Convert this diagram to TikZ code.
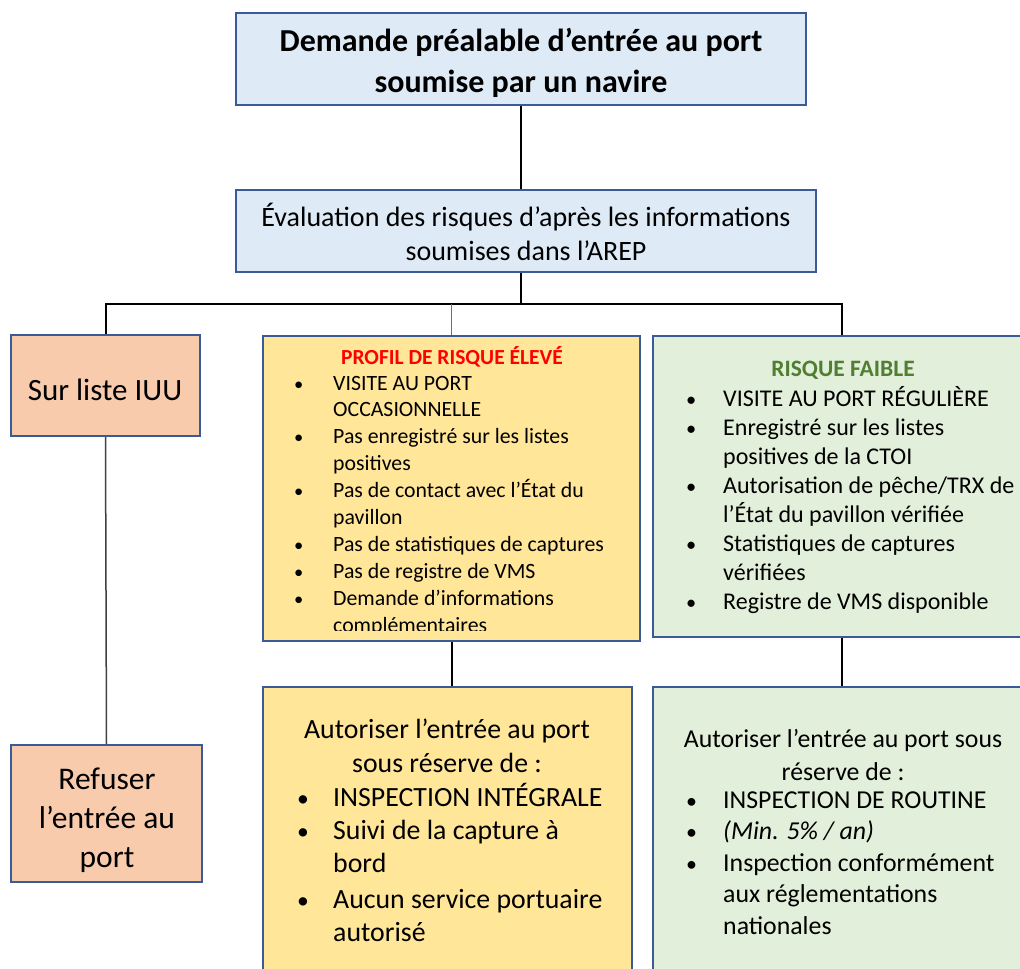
\documentclass[tikz,border=0pt]{standalone}
\usepackage{fontspec}
\setmainfont{Carlito}
\usepackage{array}
\definecolor{bluefill}{HTML}{DEEBF7}
\definecolor{boxline}{HTML}{3A5A98}
\definecolor{yellowfill}{HTML}{FFE699}
\definecolor{greenfill}{HTML}{E2EFDA}
\definecolor{orangefill}{HTML}{F8CBAD}
\definecolor{redtitle}{HTML}{FF0000}
\definecolor{greentitle}{HTML}{507E32}
\definecolor{midgray}{HTML}{707070}
\definecolor{darkgray}{HTML}{404040}
\tikzset{
  box/.style={draw=boxline, line width=2pt, inner sep=0pt, rectangle},
  bluebox/.style={box, fill=bluefill},
  yellowbox/.style={box, fill=yellowfill},
  greenbox/.style={box, fill=greenfill},
  orangebox/.style={box, fill=orangefill},
  txt/.style={inner sep=0pt, align=center, text=black},
  listtxt/.style={inner sep=0pt, anchor=north west, align=left, text=black},
  conn/.style={line width=2pt, black},
  thinconn/.style={line width=1.6pt, midgray},
  darkconn/.style={line width=1.5pt, darkgray},
}
\newcommand\bulletrow[1]{\makebox[0pt][l]{\scalebox{0.85}{•}}&#1}
\begin{document}
\begin{tikzpicture}[x=1pt,y=-1pt]
\clip (0,0) rectangle (1020,969);
\useasboundingbox (0,0) rectangle (1020,969);

% boxes
\node[bluebox, minimum width=570pt, minimum height=92pt] (top) at (521,59) {};
\node[bluebox, minimum width=580pt, minimum height=82pt] (eval) at (526,231) {};
\node[orangebox, minimum width=189pt, minimum height=101pt] (iuu) at (105.5,385.5) {};
\node[orangebox, minimum width=191pt, minimum height=137pt] (refus) at (106.5,813.5) {};
\node[yellowbox, minimum width=377pt, minimum height=305pt] (high) at (451.5,488.5) {};
\node[greenbox, minimum width=377pt, minimum height=301pt] (low) at (841.5,486.5) {};
\node[yellowbox, minimum width=369pt, minimum height=303pt] (highact) at (447.5,838.5) {};
\node[greenbox, minimum width=377pt, minimum height=303pt] (lowact) at (841.5,838.5) {};

% bus coordinates
\coordinate (busL) at (105,304);
\coordinate (busM) at (521,304);

% connectors
\draw[conn] (top.south) -- (top.south |- eval.north);
\draw[conn] (busM |- eval.south) -- (busM);
\draw[conn] (iuu.north) |- (busL) -- (low.north |- busL) -- (low.north);
\draw[thinconn] (high.north) -- (high.north |- busL);
\draw[darkconn] (iuu.south) -- (refus.north);
\draw[conn] (high.south) -- (high.south |- highact.north);
\draw[conn] (low.south) -- (low.south |- lowact.north);

% texts
\node[txt, font=\fontsize{32}{41}\selectfont\bfseries] (toptxt) at (521,63)
  {Demande préalable d’entrée au port\\soumise par un navire};
\node[txt, font=\fontsize{28}{34}\selectfont] (evaltxt) at (526,232)
  {Évaluation des risques d’après les informations\\soumises dans l’AREP};
\node[txt, font=\fontsize{31}{39}\selectfont] (iuutxt) at (105,390) {Sur liste IUU};
\node[txt, font=\fontsize{31.5}{39}\selectfont] (refustxt) at (107,820)
  {Refuser\\l’entrée au\\port};

% high risk
\node[txt, font=\fontsize{21.5}{24}\selectfont\bfseries, text=redtitle] (hightitle) at (452,357)
  {PROFIL DE RISQUE ÉLEVÉ};
\begin{scope}
\clip (264,337) rectangle (640,630);
\node[listtxt, font=\fontsize{21.8}{26.9}\selectfont] (highlist) at (294,371) {%
\begin{tabular}{@{}p{39pt}@{}l@{}}
\bulletrow{VISITE AU PORT}\\
 & OCCASIONNELLE\\
\bulletrow{Pas enregistré sur les listes}\\
 & positives\\
\bulletrow{Pas de contact avec l’État du}\\
 & pavillon\\
\bulletrow{Pas de statistiques de captures}\\
\bulletrow{Pas de registre de VMS}\\
\bulletrow{Demande d’informations}\\
 & complémentaires
\end{tabular}};
\end{scope}

% low risk
\node[txt, font=\fontsize{23.5}{26}\selectfont\bfseries, text=greentitle] (lowtitle) at (843,370)
  {RISQUE FAIBLE};
\node[listtxt, font=\fontsize{24}{29}\selectfont] (lowlist) at (686,386) {%
\begin{tabular}{@{}p{37pt}@{}l@{}}
\bulletrow{VISITE AU PORT RÉGULIÈRE}\\
\bulletrow{Enregistré sur les listes}\\
 & positives de la CTOI\\
\bulletrow{Autorisation de pêche/TRX de}\\
 & l’État du pavillon vérifiée\\
\bulletrow{Statistiques de captures}\\
 & vérifiées\\
\bulletrow{Registre de VMS disponible}
\end{tabular}};

% high action
\node[txt, font=\fontsize{27.8}{34}\selectfont] (highhead) at (447,746)
  {Autoriser l’entrée au port\\sous réserve de :};
\node[listtxt, font=\fontsize{27.8}{33}\selectfont] (highactlist) at (297,783) {%
\begin{tabular}{@{}p{36pt}@{}l@{}}
\bulletrow{INSPECTION INTÉGRALE}\\
\bulletrow{Suivi de la capture à}\\
 & bord\\[3pt]
\bulletrow{Aucun service portuaire}\\
 & autorisé
\end{tabular}};

% low action
\node[txt, font=\fontsize{25.8}{33}\selectfont] (lowhead) at (843,754.5)
  {Autoriser l’entrée au port sous\\réserve de :};
\node[listtxt, font=\fontsize{25.8}{31.5}\selectfont] (lowactlist) at (686,786) {%
\begin{tabular}{@{}p{37pt}@{}l@{}}
\bulletrow{INSPECTION DE ROUTINE}\\
\bulletrow{\textit{(Min. 5\% / an)}}\\
\bulletrow{Inspection conformément}\\
 & aux réglementations\\
 & nationales
\end{tabular}};
\end{tikzpicture}
\end{document}
